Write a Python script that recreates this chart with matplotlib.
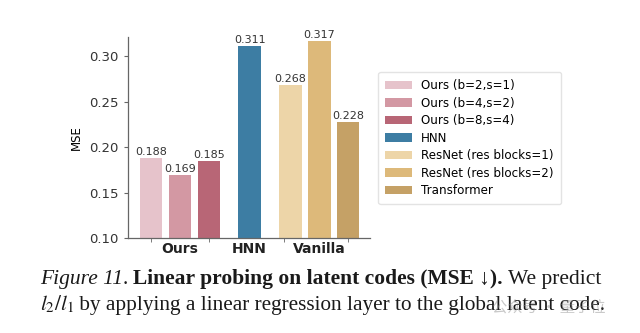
import matplotlib
matplotlib.use("Agg")
import matplotlib.pyplot as plt

# data
methods = ["Ours (b=2,s=1)", "Ours (b=4,s=2)", "Ours (b=8,s=4)", "HNN",
           "ResNet (res blocks=1)", "ResNet (res blocks=2)", "Transformer"]
mse = [0.188, 0.169, 0.185, 0.311, 0.268, 0.317, 0.228]
groups = ["Ours", "HNN", "Vanilla"]
colors = ["#E6C3CB", "#D398A3", "#B86676", "#3D7DA3",
          "#EDD5A8", "#DDB97A", "#C5A166"]

xpos = [0, 1, 2, 3.4, 4.8, 5.8, 6.8]
group_pos = [1, 3.4, 5.8]

fig = plt.figure(figsize=(6.4, 3.33), dpi=100)
ax = fig.add_axes([0.2, 0.285, 0.378, 0.604])

bars = ax.bar(xpos, mse, width=0.78, color=colors, label=methods)
for x, v in zip(xpos, mse):
    ax.text(x, v + 0.001, f"{v:.3f}", ha="center", va="bottom",
            fontsize=8, color="#333333")

ax.set_ylim(0.10, 0.321)
ax.set_xlim(-0.8, 7.55)
ax.set_yticks([0.10, 0.15, 0.20, 0.25, 0.30])
ax.set_yticklabels(["0.10", "0.15", "0.20", "0.25", "0.30"], fontsize=9.5,
                   color="#333333")
ax.set_xticks(group_pos)
ax.set_xticklabels(groups, fontsize=10, fontweight="bold", color="#222222")
ax.tick_params(axis="x", length=0, pad=3)
ax.set_xticks([0, 2, 4.6, 6.8], minor=True)
ax.tick_params(axis="x", which="minor", length=3, color="#666666")
ax.tick_params(axis="y", length=3, color="#666666")
ax.set_ylabel("MSE", fontsize=8.5, labelpad=5)
for s in ["top", "right"]:
    ax.spines[s].set_visible(False)
for s in ["left", "bottom"]:
    ax.spines[s].set_color("#666666")
    ax.spines[s].set_linewidth(0.9)

fig.legend(handles=bars, labels=methods, loc="upper left",
           bbox_to_anchor=(0.591, 0.784), borderaxespad=0, fontsize=8.6,
           frameon=True, edgecolor="#dddddd", handlelength=2.2,
           labelspacing=0.38, borderpad=0.6, handletextpad=0.8)

# caption
plt.rcParams["mathtext.fontset"] = "stix"
serif = ["Liberation Serif", "DejaVu Serif"]
fig.canvas.draw()
renderer = fig.canvas.get_renderer()


def write_line(parts, x0, y0, size):
    x = x0
    for txt, style, weight in parts:
        t = fig.text(x, y0, txt, fontsize=size, family=serif, style=style,
                     weight=weight, color="#1a1a1a", va="baseline")
        bb = t.get_window_extent(renderer=renderer)
        x += bb.width / fig.bbox.width


write_line([("Figure 11", "italic", "normal"),
            (". ", "normal", "normal"),
            ("Linear probing on latent codes (MSE \u2193).", "normal", "bold"),
            (" We predict", "normal", "normal")], 0.062, 0.147, 15.5)
write_line([(r"$l_2/l_1$", "normal", "normal"),
            (" by applying a linear regression layer to the global latent code.",
             "normal", "normal")], 0.062, 0.069, 15.3)

# watermark
fig.text(0.768, 0.062, "\u516c\u4f17\u53f7 \u00b7 \u91cf\u5b50\u4f4d", fontsize=11,
         family=["Noto Sans CJK SC", "DejaVu Sans"], color="#888888",
         alpha=0.45, ha="left", va="baseline")

fig.savefig("out.png", dpi=100)
